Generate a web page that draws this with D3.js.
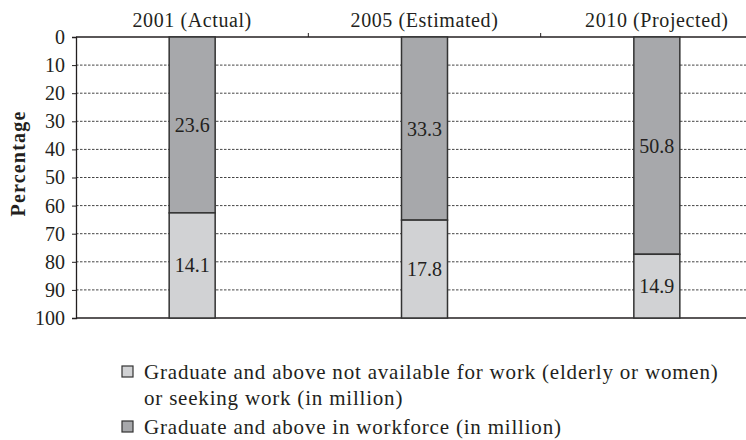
<!DOCTYPE html>
<html>
<head>
<meta charset="utf-8">
<script src="https://cdn.jsdelivr.net/npm/d3@7"></script>
<style>
  body { margin: 0; background: #fff; }
  svg text { font-family: "Liberation Serif", "Times New Roman", serif; }
</style>
</head>
<body>
<svg id="chart" width="746" height="440"></svg>
<script>
// data (million)
const categories = ["2001 (Actual)", "2005 (Estimated)", "2010 (Projected)"];
const inWorkforce = [23.6, 33.3, 50.8];
const notAvailable = [14.1, 17.8, 14.9];
const yTicks = [0, 10, 20, 30, 40, 50, 60, 70, 80, 90, 100];
const legendLines = [
  ["Graduate and above not available for work (elderly or women)", "or seeking work (in million)"],
  ["Graduate and above in workforce (in million)"]
];

const darkFill = "#a7a8ab";
const lightFill = "#d1d2d4";
const ink = "#231f20";

const svg = d3.select("#chart");
const plotLeft = 76, plotRight = 773, plotTop = 37, plotBottom = 318;

const x = d3.scaleBand().domain(categories).range([plotLeft, plotRight]);
const y = d3.scaleLinear().domain([0, 100]).range([plotTop, plotBottom]);

const rows = categories.map((c, i) => {
  const total = inWorkforce[i] + notAvailable[i];
  const split = inWorkforce[i] / total * 100;
  return { cat: c, work: inWorkforce[i], notAvail: notAvailable[i], split };
});

// gridlines
svg.append("g")
  .selectAll("line")
  .data(yTicks.filter(t => t > 0 && t < 100))
  .join("line")
  .attr("x1", plotLeft).attr("x2", 746)
  .attr("y1", d => y(d)).attr("y2", d => y(d))
  .attr("stroke", "#444")
  .attr("stroke-width", 1)
  .attr("stroke-dasharray", "2.5,1.5");

// y axis
const yAxis = svg.append("g")
  .attr("transform", `translate(${plotLeft},0)`)
  .call(d3.axisLeft(y).tickValues(yTicks).tickSize(4).tickPadding(7));
yAxis.attr("font-family", null);
yAxis.select(".domain").attr("stroke", ink).attr("stroke-width", 1.3);
yAxis.selectAll(".tick line").attr("stroke", ink);
yAxis.selectAll("text")
  .attr("font-size", 20)
  .attr("fill", ink);

// top and bottom frame lines
svg.append("line")
  .attr("x1", plotLeft).attr("x2", 746).attr("y1", y(0)).attr("y2", y(0))
  .attr("stroke", ink).attr("stroke-width", 1.3);
svg.append("line")
  .attr("x1", plotLeft).attr("x2", 746).attr("y1", y(100)).attr("y2", y(100))
  .attr("stroke", ink).attr("stroke-width", 1.3);

// top category axis
const xAxis = svg.append("g")
  .attr("transform", `translate(0,${plotTop})`)
  .call(d3.axisTop(x).tickSize(0).tickPadding(10));
xAxis.attr("font-family", null);
xAxis.select(".domain").remove();
xAxis.selectAll("text")
  .attr("font-size", 20)
  .attr("letter-spacing", 0.6)
  .attr("fill", ink);
// tick marks between categories
svg.append("g")
  .selectAll("line")
  .data(categories.slice(1))
  .join("line")
  .attr("x1", d => x(d)).attr("x2", d => x(d))
  .attr("y1", plotTop).attr("y2", plotTop - 4)
  .attr("stroke", ink);

// bars
const barW = 46;
const bars = svg.append("g")
  .selectAll("g")
  .data(rows)
  .join("g")
  .attr("transform", d => `translate(${x(d.cat) + x.bandwidth() / 2 - barW / 2},0)`);

bars.append("rect")
  .attr("x", 0).attr("width", barW)
  .attr("y", y(0)).attr("height", d => y(d.split) - y(0))
  .attr("fill", darkFill).attr("stroke", "#333").attr("stroke-width", 1.5);

bars.append("rect")
  .attr("x", 0).attr("width", barW)
  .attr("y", d => y(d.split)).attr("height", d => y(100) - y(d.split))
  .attr("fill", lightFill).attr("stroke", "#333").attr("stroke-width", 1.5);

bars.append("text")
  .attr("x", barW / 2)
  .attr("y", d => y(d.split / 2))
  .attr("dy", "0.35em")
  .attr("text-anchor", "middle")
  .attr("font-size", 20)
  .attr("fill", ink)
  .text(d => d.work);

bars.append("text")
  .attr("x", barW / 2)
  .attr("y", d => y((d.split + 100) / 2))
  .attr("dy", "0.35em")
  .attr("text-anchor", "middle")
  .attr("font-size", 20)
  .attr("fill", ink)
  .text(d => d.notAvail);

// y label
svg.append("text")
  .attr("transform", `translate(25,${(plotTop + plotBottom) / 2 - 14}) rotate(-90)`)
  .attr("text-anchor", "middle")
  .attr("font-size", 20)
  .attr("font-weight", "bold")
  .attr("letter-spacing", 1.2)
  .attr("fill", ink)
  .text("Percentage");

// legend
const legend = svg.append("g");
const legendItems = [
  { fill: lightFill, lines: legendLines[0], y: 366 },
  { fill: darkFill, lines: legendLines[1], y: 421 }
];
legendItems.forEach(it => {
  legend.append("rect")
    .attr("x", 122).attr("y", it.y)
    .attr("width", 11).attr("height", 11)
    .attr("fill", it.fill).attr("stroke", "#333").attr("stroke-width", 1.2);
  it.lines.forEach((ln, j) => {
    legend.append("text")
      .attr("x", 144)
      .attr("y", it.y + 13 + j * 26)
      .attr("font-size", 21)
      .attr("letter-spacing", 0.8)
      .attr("fill", ink)
      .text(ln);
  });
});
</script>
</body>
</html>
